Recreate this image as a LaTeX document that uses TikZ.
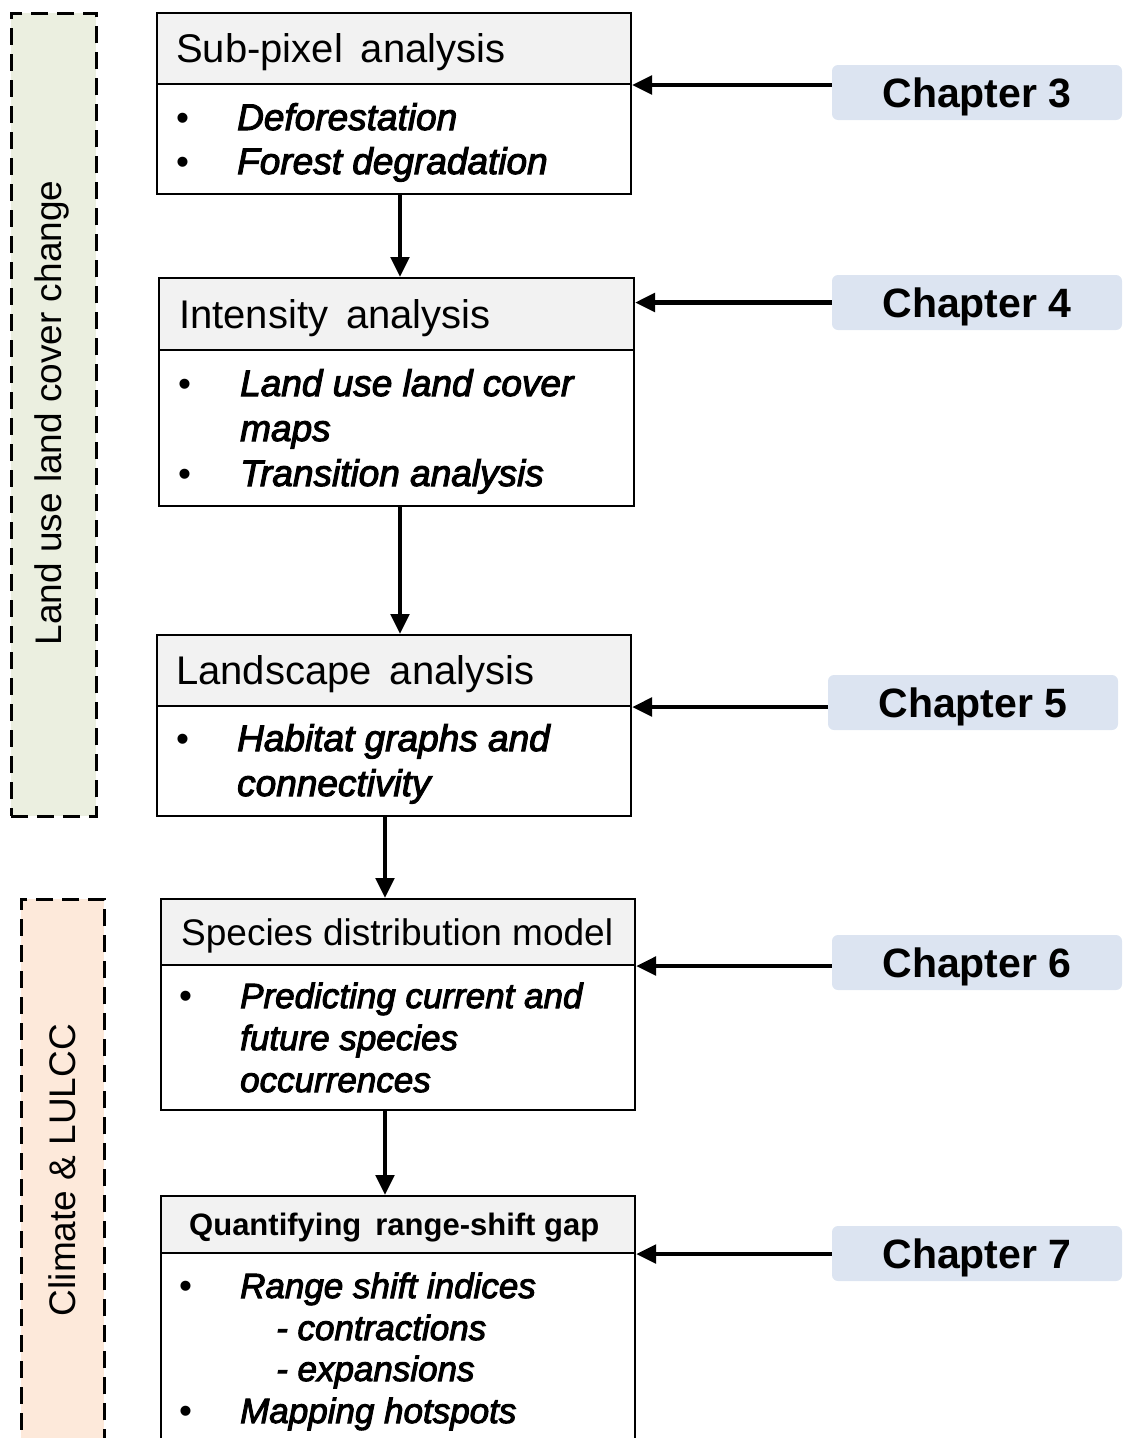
\documentclass[tikz,border=0pt]{standalone}
\usepackage{fontspec}
\setmainfont{Liberation Sans}
\newfontfamily\heavyit{Liberation Sans}[ItalicFeatures={FakeBold=2.8}]
\usetikzlibrary{arrows.meta}
\definecolor{hdr}{HTML}{F2F2F2}
\definecolor{chap}{HTML}{DCE4F1}
\definecolor{grn}{HTML}{EBEFE0}
\definecolor{org}{HTML}{FDE9DA}
\begin{document}
\begin{tikzpicture}[x=1pt,y=-1pt,
  box/.style={draw=black, line width=2pt, anchor=north west, inner sep=0pt, minimum width=474pt},
  hdrbox/.style={box, fill=hdr},
  chapbox/.style={fill=chap, rounded corners=6pt, minimum width=290pt, minimum height=55pt, inner sep=0pt, text height=29.5pt, text depth=0pt, font=\fontsize{41}{48}\selectfont\bfseries},
  arr/.style={line width=4.8pt, -{Triangle[length=20pt,width=18pt]}},
  grp/.style={draw=black, dash pattern=on 17pt off 9pt, line width=2.8pt, anchor=north west, inner sep=0pt},
  grptxt/.style={rotate=90, font=\fontsize{37}{44}\selectfont, inner sep=0pt},
  htx/.style={anchor=base west, inner sep=0pt, font=\fontsize{40}{48}\selectfont},
  itx/.style={anchor=base west, inner sep=0pt, font=\fontsize{37}{44}\selectfont\heavyit\itshape},
  itxs/.style={anchor=base west, inner sep=0pt, font=\fontsize{35}{42}\selectfont\heavyit\itshape},
  bul/.style={anchor=base west, inner sep=0pt, font=\fontsize{37}{44}\selectfont},
]
\useasboundingbox (0,0) rectangle (1123,1438);
\clip (0,0) rectangle (1123,1438);

% group boxes
\node[grp, fill=grn, minimum width=85pt, minimum height=803pt] (g1) at (10,12) {};
\node[grptxt] (g1t) at (52,413) {Land use land cover change};
\node[grp, fill=org, minimum width=83pt, minimum height=620pt] (g2) at (20,898) {};
\node[grptxt] (g2t) at (62,1170) {Climate \& LULCC};

% box 1
\node[hdrbox, minimum height=71pt] (b1h) at (156,12) {};
\node[box, minimum height=110pt] (b1b) at (156,83) {};
\node[htx] (b1t) at (176,62) {Sub-pixel\hspace{0.45em}analysis};
\node[bul] (b1u1) at (176,130) {•};
\node[itx] (b1i1) at (237,130) {Deforestation};
\node[bul] (b1u2) at (176,174) {•};
\node[itx] (b1i2) at (237,174) {Forest degradation};

% box 2
\node[hdrbox, minimum width=475pt, minimum height=72pt] (b2h) at (158,277) {};
\node[box, minimum width=475pt, minimum height=156pt] (b2b) at (158,349) {};
\node[htx] (b2t) at (179,328) {Intensity\hspace{0.45em}analysis};
\node[bul] (b2u1) at (178,396) {•};
\node[itx] (b2i1) at (240,396) {Land use land cover};
\node[itx] (b2i2) at (240,441) {maps};
\node[bul] (b2u2) at (178,486) {•};
\node[itx] (b2i3) at (240,486) {Transition analysis};

% box 3
\node[hdrbox, minimum height=71pt] (b3h) at (156,634) {};
\node[box, minimum height=110pt] (b3b) at (156,705) {};
\node[htx] (b3t) at (176,684) {Landscape\hspace{0.45em}analysis};
\node[bul] (b3u1) at (176,751) {•};
\node[itx] (b3i1) at (237,751) {Habitat graphs and};
\node[itx] (b3i2) at (237,796) {connectivity};

% box 4
\node[hdrbox, minimum height=66pt] (b4h) at (160,898) {};
\node[box, minimum height=145pt] (b4b) at (160,964) {};
\node[htx, font=\fontsize{37}{44}\selectfont] (b4t) at (181,945) {Species distribution model};
\node[bul] (b4u1) at (179,1008) {•};
\node[itxs] (b4i1) at (240,1008) {Predicting current and};
\node[itxs] (b4i2) at (240,1050) {future species};
\node[itxs] (b4i3) at (240,1092) {occurrences};

% box 5
\node[hdrbox, minimum height=57pt] (b5h) at (160,1195) {};
\node[box, minimum height=230pt] (b5b) at (160,1252) {};
\node[htx, font=\fontsize{31}{37}\selectfont\bfseries] (b5t) at (189,1235) {Quantifying\hspace{0.45em}range-shift gap};
\node[bul] (b5u1) at (179,1298) {•};
\node[itxs] (b5i1) at (240,1298) {Range shift indices};
\node[itxs] (b5i2) at (276,1340) {- contractions};
\node[itxs] (b5i3) at (276,1381) {- expansions};
\node[bul] (b5u2) at (179,1423) {•};
\node[itxs] (b5i4) at (240,1423) {Mapping hotspots};

% vertical arrows
\coordinate (ax1) at (400,0);
\coordinate (ax2) at (385,0);
\draw[arr] (b1b.south -| ax1) -- (b2h.north -| ax1);
\draw[arr] (b2b.south -| ax1) -- (b3h.north -| ax1);
\draw[arr] (b3b.south -| ax2) -- (b4h.north -| ax2);
\draw[arr] (b4b.south -| ax2) -- (b5h.north -| ax2);

% chapters
\node[chapbox] (ch3) at (977,92.5) {Chapter 3};
\node[chapbox] (ch4) at (977,302.5) {Chapter 4};
\node[chapbox] (ch5) at (973,702.5) {Chapter 5};
\node[chapbox] (ch6) at (977,962.5) {Chapter 6};
\node[chapbox] (ch7) at (977,1253.5) {Chapter 7};

\draw[arr] (ch3.west |- b1h.south) -- (b1h.south east);
\draw[arr] (ch4.west) -- (ch4.west -| b2h.east);
\draw[arr] (ch5.west |- b3h.south) -- (b3h.south east);
\draw[arr] (ch6.west |- b4h.south) -- (b4h.south east);
\draw[arr] (ch7.west |- b5h.south) -- (b5h.south east);
\end{tikzpicture}
\end{document}
